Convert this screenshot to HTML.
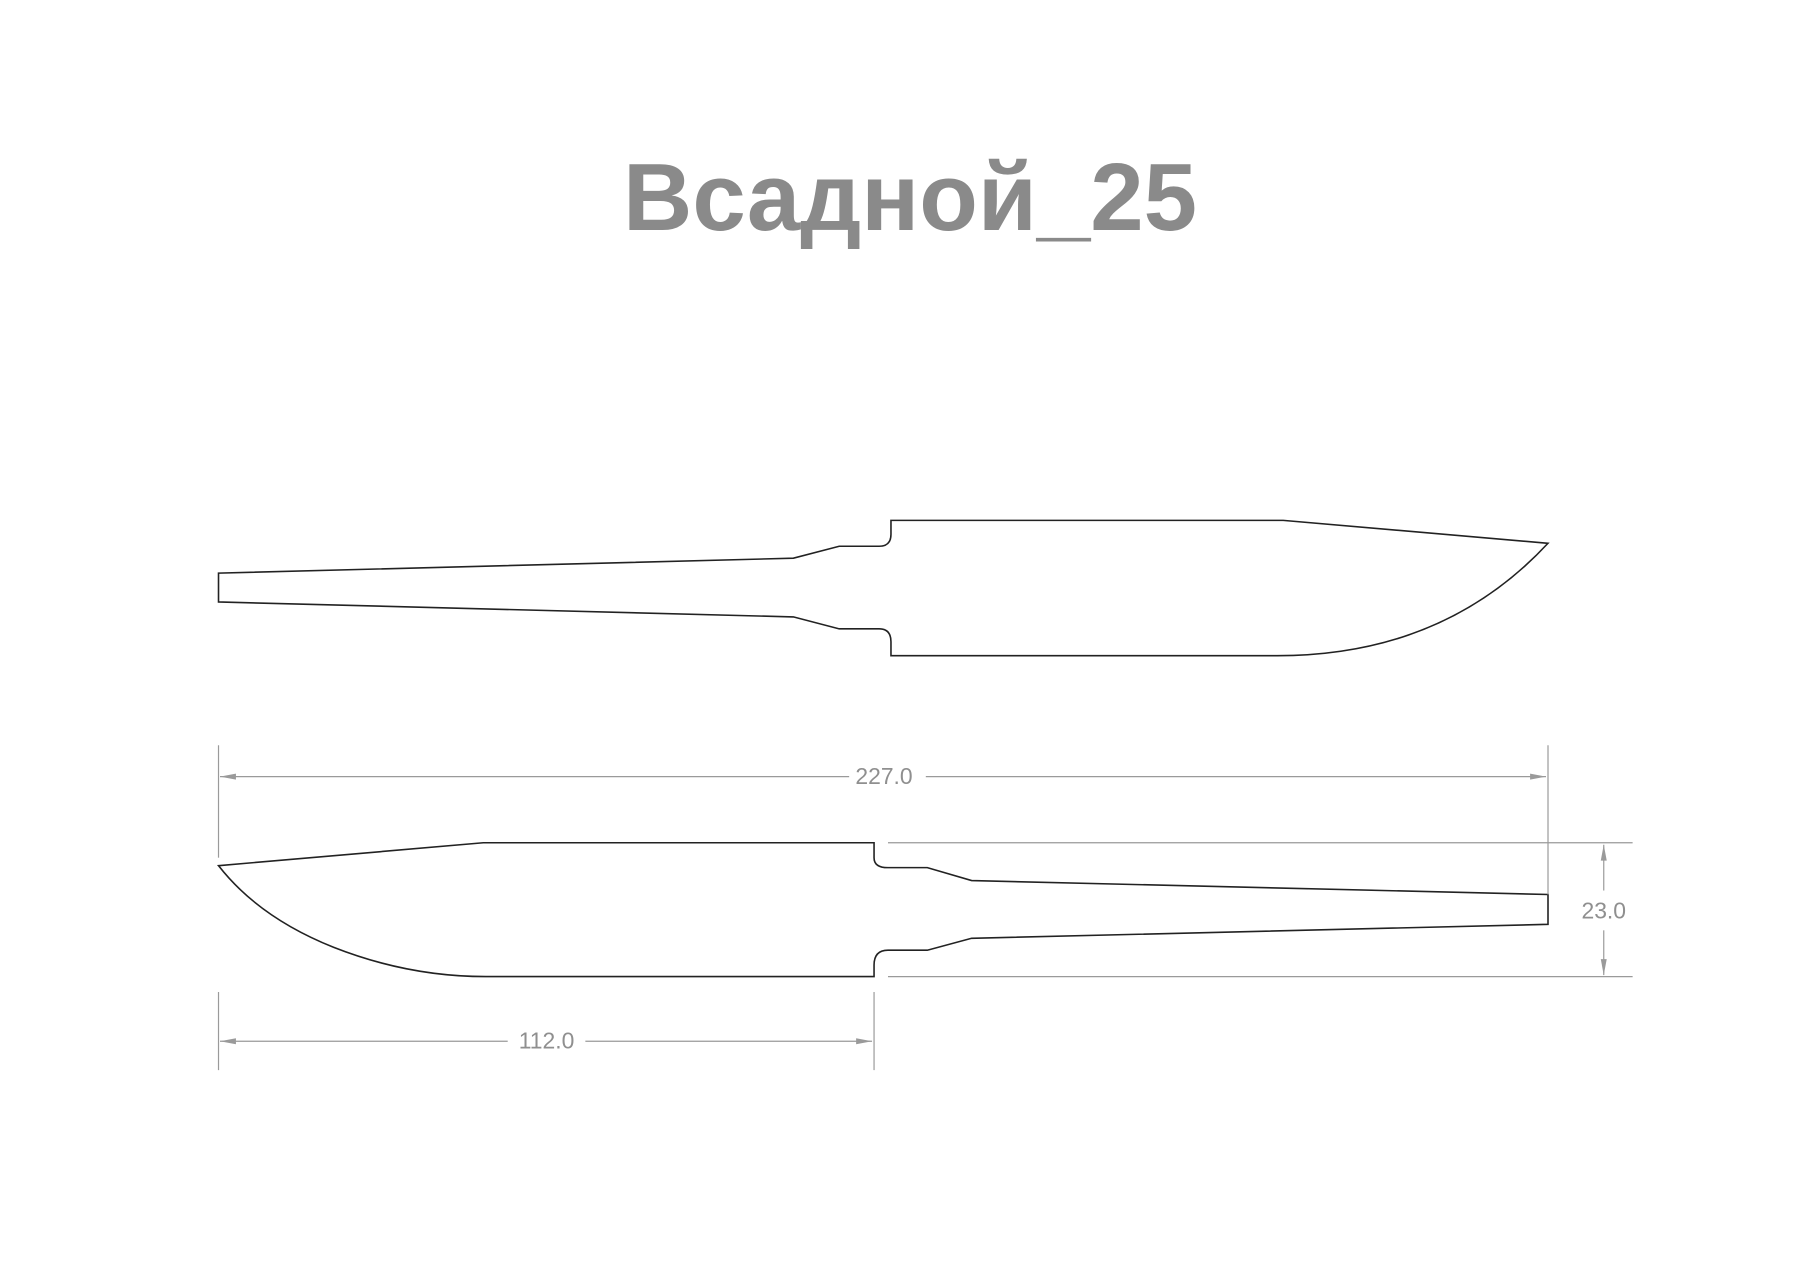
<!DOCTYPE html>
<html><head><meta charset="utf-8"><style>
html,body{margin:0;padding:0;background:#fff;width:1812px;height:1280px;overflow:hidden}
</style></head><body>
<svg width="1812" height="1280" viewBox="0 0 1812 1280" xmlns="http://www.w3.org/2000/svg">
<text x="910" y="230" text-anchor="middle" font-family="Liberation Sans, DejaVu Sans, sans-serif" font-weight="bold" font-size="96" fill="#8a8a8a">Всадной_25</text>
<g transform="scale(0.9955 0.995)">
<g fill="none" stroke="#222" stroke-width="1.6">
<path d="M219.5,576 L797,561 L843,549 L883,549 Q895,549 895,537 L895,523 L1289,523 L1555,546 Q1450,659 1283,659 L895,659 L895,645 Q895,632 883,632 L843,632 L797,620 L219.5,605 Z"/>
<path d="M219.5,870 L485.5,847 L878,847 L878,862 Q878,872 892,872 L931.5,872 L976,885 L1555,899 L1555,929 L976,943 L931.5,955 L892,955 Q878,955 878,970 L878,981.5 L488,981.5 Q410,981.5 335,952 Q260,922 219.5,870 Z"/>
</g>
<g stroke="#9a9a9a" stroke-width="1.2" fill="#9a9a9a">
<line x1="219.5" y1="749" x2="219.5" y2="862"/>
<line x1="1555" y1="749" x2="1555" y2="899"/>
<line x1="221" y1="780.5" x2="853" y2="780.5"/>
<line x1="930" y1="780.5" x2="1553" y2="780.5"/>
<path d="M221,780.5 l16,-3 v6 z" stroke="none"/>
<path d="M1553,780.5 l-16,-3 v6 z" stroke="none"/>
<line x1="892" y1="847" x2="1640" y2="847"/>
<line x1="892" y1="981.5" x2="1640" y2="981.5"/>
<line x1="1611" y1="849" x2="1611" y2="895"/>
<line x1="1611" y1="935" x2="1611" y2="980"/>
<path d="M1611,849 l-3,16 h6 z" stroke="none"/>
<path d="M1611,980 l-3,-16 h6 z" stroke="none"/>
<line x1="219.5" y1="997" x2="219.5" y2="1075.5"/>
<line x1="878" y1="997" x2="878" y2="1075.5"/>
<line x1="221" y1="1046.5" x2="510" y2="1046.5"/>
<line x1="588" y1="1046.5" x2="876" y2="1046.5"/>
<path d="M221,1046.5 l16,-3 v6 z" stroke="none"/>
<path d="M876,1046.5 l-16,-3 v6 z" stroke="none"/>
</g>
<g font-family="Liberation Sans, sans-serif" font-size="23" fill="#8f8f8f" text-anchor="middle">
<text x="888" y="788">227.0</text>
<text x="1611" y="923">23.0</text>
<text x="549" y="1054">112.0</text>
</g>
</g>
</svg>
</body></html>
